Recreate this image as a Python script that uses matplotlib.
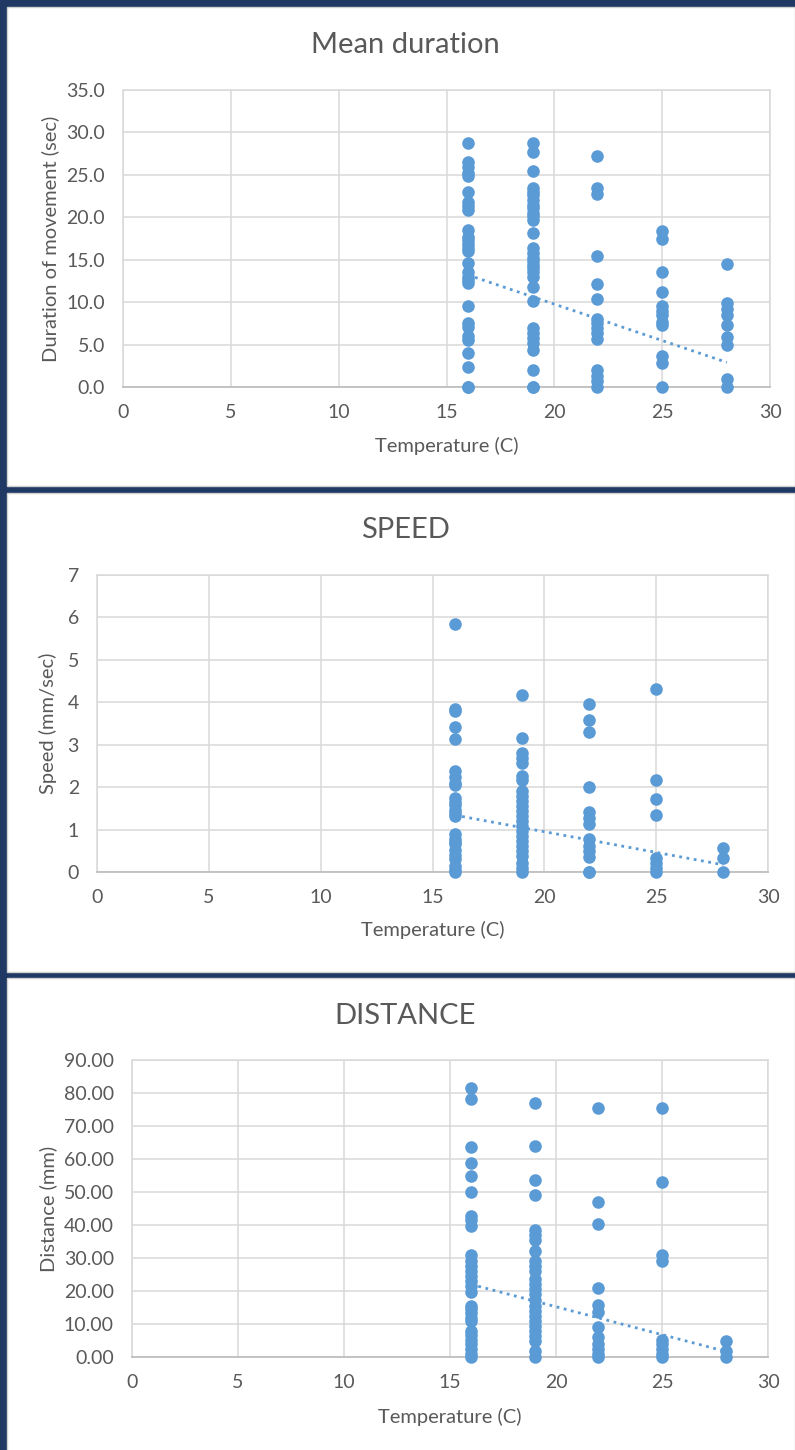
import matplotlib
matplotlib.use("Agg")
import matplotlib.pyplot as plt
import matplotlib.patches as patches
from matplotlib.ticker import FormatStrFormatter

plt.rcParams['font.family'] = ['Lato', 'DejaVu Sans']

# data: temperatures and values read per temperature column
temps = [16, 19, 22, 25, 28]

duration = [
    [28.7, 26.5, 25.9, 25.2, 24.9, 23.0, 21.8, 21.3, 20.9, 18.5, 17.7, 17.3, 16.9, 16.4,
     16.0, 14.6, 13.6, 13.0, 12.6, 12.2, 9.5, 7.6, 7.1, 6.0, 5.5, 4.0, 2.4, 0.0, 0.0],
    [28.7, 27.7, 25.5, 23.4, 23.0, 22.6, 22.0, 21.5, 21.1, 20.5, 20.1, 19.7, 18.2, 16.4,
     15.8, 15.2, 14.8, 14.4, 14.0, 13.6, 13.0, 11.8, 10.1, 6.9, 6.4, 5.8, 5.2, 4.4, 2.0, 0.0, 0.0],
    [27.2, 23.5, 22.7, 15.4, 12.1, 10.4, 8.0, 7.5, 6.9, 6.4, 5.6, 2.0, 1.3, 0.7, 0.0],
    [18.4, 17.5, 13.5, 11.2, 9.5, 9.0, 8.5, 7.7, 7.3, 3.7, 2.8, 0.0],
    [14.5, 9.9, 9.2, 8.5, 7.3, 5.9, 4.9, 1.0, 0.0],
]
speed = [
    [5.85, 3.84, 3.80, 3.41, 3.13, 2.37, 2.25, 2.10, 2.05, 1.75, 1.65, 1.59, 1.47, 1.40, 1.33,
     0.89, 0.77, 0.70, 0.65, 0.53, 0.41, 0.30, 0.14, 0.05, 0.0],
    [4.18, 3.16, 2.81, 2.69, 2.57, 2.26, 2.18, 1.90, 1.79, 1.67, 1.55, 1.43, 1.32, 1.20,
     1.08, 0.96, 0.85, 0.73, 0.61, 0.49, 0.38, 0.22, 0.10, 0.0],
    [3.96, 3.59, 3.31, 2.00, 1.41, 1.28, 1.14, 0.77, 0.61, 0.49, 0.36, 0.0, 0.0],
    [4.31, 2.16, 1.71, 1.34, 0.34, 0.22, 0.10, 0.0],
    [0.57, 0.34, 0.0],
]
distance = [
    [81.5, 78.1, 63.6, 58.8, 54.9, 49.9, 42.6, 41.6, 39.6, 31.0, 29.0, 27.5, 26.0, 24.5,
     23.0, 21.5, 19.7, 15.4, 14.4, 13.4, 11.9, 10.9, 7.9, 6.6, 5.3, 3.8, 2.3, 0.8, 0.0],
    [77.1, 64.0, 53.7, 49.2, 38.4, 37.1, 35.6, 32.1, 29.0, 27.5, 26.0, 23.5, 22.0, 20.5,
     19.0, 17.4, 15.4, 13.9, 12.4, 10.9, 9.4, 7.9, 6.4, 4.8, 1.8, 0.0],
    [75.6, 46.9, 40.4, 20.8, 15.7, 13.6, 9.1, 6.0, 3.8, 2.3, 0.8, 0.0],
    [75.6, 53.0, 31.0, 29.0, 5.3, 3.8, 2.3, 0.8, 0.0],
    [4.8, 1.8, 0.0],
]

# linear trendline values at x=16 and x=28
trend_x = [16, 28]
duration_trend = [13.2, 2.9]
speed_trend = [1.34, 0.17]
distance_trend = [22.0, 1.7]

W, H = 795, 1450
navy = '#1F3864'
blue = '#5B9BD5'
grid_c = '#D9D9D9'
text_c = '#595959'

fig = plt.figure(figsize=(W / 100, H / 100), dpi=100, facecolor=navy)


def fx(px):
    return px / W


def fy(py):
    return 1 - py / H


# white panels behind the axes
for top, bottom in [(7, 486), (493, 972), (978, 1452)]:
    r = patches.Rectangle((fx(7), fy(bottom)), fx(795) - fx(7), fy(top) - fy(bottom),
                          transform=fig.transFigure, facecolor='white',
                          edgecolor='#D0D0D0', linewidth=1, zorder=-10)
    fig.patches.append(r)

panels = [
    # title, ylabel, data, trend, ylim, ystep, fmt, axes box(px), title y, xlabel y, ylabel x
    ('Mean duration', 'Duration of movement (sec)', duration, duration_trend, 35, 5, '%.1f',
     (123, 90, 770, 387), 45, 446, 50),
    ('SPEED', 'Speed (mm/sec)', speed, speed_trend, 7, 1, '%d',
     (97, 575, 768, 872), 530, 930, 48),
    ('DISTANCE', 'Distance (mm)', distance, distance_trend, 90, 10, '%.2f',
     (132, 1060, 768, 1357), 1016, 1417, 48),
]

for title, ylab, data, trend, ymax, ystep, fmt, box, ty, xly, ylx in panels:
    l, t, r, b = box
    ax = fig.add_axes([fx(l), fy(b), fx(r) - fx(l), fy(t) - fy(b)])
    ax.set_facecolor('white')
    for temp, vals in zip(temps, data):
        ax.scatter([temp] * len(vals), vals, s=82, color=blue, zorder=3,
                   clip_on=False, linewidths=0)
    ax.plot(trend_x, trend, linestyle=':', color=blue, linewidth=2, zorder=4)
    ax.set_xlim(0, 30)
    ax.set_ylim(0, ymax)
    ax.set_xticks(range(0, 31, 5))
    ax.set_yticks([i * ystep for i in range(int(round(ymax / ystep)) + 1)])
    ax.yaxis.set_major_formatter(FormatStrFormatter(fmt))
    ax.grid(True, color=grid_c, linewidth=1.1, zorder=0)
    ax.set_axisbelow(True)
    for s in ['top', 'right', 'left']:
        ax.spines[s].set_color(grid_c)
        ax.spines[s].set_linewidth(1.1)
    ax.spines['bottom'].set_color('#BFBFBF')
    ax.spines['bottom'].set_linewidth(1.3)
    ax.tick_params(length=0, labelsize=14, colors=text_c)
    ax.tick_params(axis='y', pad=13)
    ax.tick_params(axis='x', pad=12)
    fig.text(fx(405), fy(ty), title, ha='center', va='center',
             fontsize=21, color=text_c)
    fig.text(fx((l + r) / 2), fy(xly), 'Temperature (C)', ha='center', va='center',
             fontsize=14.5, color=text_c)
    fig.text(fx(ylx), fy((t + b) / 2), ylab, ha='center', va='center',
             fontsize=14.5, color=text_c, rotation=90)

fig.savefig('out.png', dpi=100, facecolor=navy)
